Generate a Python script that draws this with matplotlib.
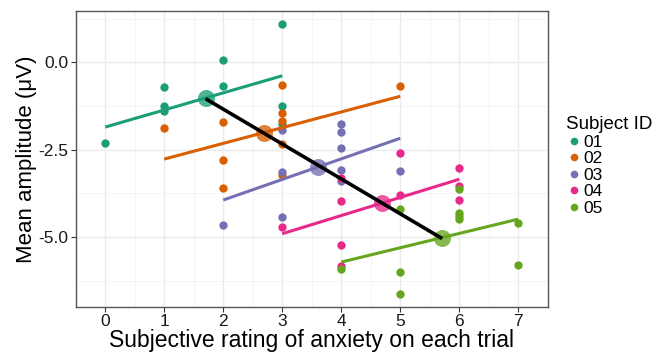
import matplotlib
matplotlib.use("Agg")
import matplotlib.pyplot as plt
import numpy as np
from matplotlib.lines import Line2D

plt.rcParams['font.family'] = ['Liberation Sans', 'DejaVu Sans']

subjects = ["01", "02", "03", "04", "05"]
colors = ["#1B9E77", "#D95F02", "#7570B3", "#E7298A", "#66A61E"]

x_01 = [0, 1, 1, 1, 2, 2, 3, 3, 3]
y_01 = [-2.30, -0.70, -1.25, -1.38, 0.07, -0.69, 1.09, -1.24, -1.76]
x_02 = [1, 2, 2, 2, 3, 3, 3, 3, 3, 5]
y_02 = [-1.89, -1.71, -2.80, -3.60, -0.66, -1.46, -1.67, -2.35, -3.22, -0.67]
x_03 = [2, 3, 3, 3, 4, 4, 4, 4, 4, 5]
y_03 = [-4.66, -1.95, -3.15, -4.44, -1.77, -2.00, -2.45, -3.08, -3.41, -3.11]
x_04 = [3, 4, 4, 4, 4, 5, 5, 6, 6, 6]
y_04 = [-4.73, -3.31, -3.97, -5.23, -5.83, -2.61, -3.81, -3.03, -3.53, -3.94]
x_05 = [4, 5, 5, 5, 6, 6, 6, 6, 7, 7]
y_05 = [-5.93, -4.19, -6.01, -6.65, -3.63, -4.32, -4.40, -4.49, -4.59, -5.80]

xs = [x_01, x_02, x_03, x_04, x_05]
ys = [y_01, y_02, y_03, y_04, y_05]

mean_x = [1.70, 2.69, 3.60, 4.69, 5.71]
mean_y = [-1.02, -2.01, -3.00, -4.03, -5.02]
slopes = [0.49, 0.45, 0.59, 0.52, 0.41]

x_ticks = [0, 1, 2, 3, 4, 5, 6, 7]
y_ticks = [0.0, -2.5, -5.0]
y_tick_labels = ["0.0", "-2.5", "-5.0"]

fig = plt.figure(figsize=(6.56, 3.58), dpi=100)
ax = fig.add_axes([0.1154, 0.1433, 0.835 - 0.1154, 0.969 - 0.1433])

ax.set_xlim(-0.35, 7.35)
ax.set_ylim(-7.0, 1.47)

ax.set_xticks(x_ticks)
ax.set_xticks(np.arange(-0.5, 7.6, 1.0), minor=True)
ax.set_yticks(y_ticks)
ax.set_yticklabels(y_tick_labels)
ax.set_yticks([1.25, -1.25, -3.75, -6.25], minor=True)
ax.grid(which='major', color='#EBEBEB', linewidth=1.0)
ax.grid(which='minor', color='#F2F2F2', linewidth=0.6)
ax.set_axisbelow(True)
ax.tick_params(which='minor', length=0)
ax.tick_params(which='major', length=3.5, width=0.8, color='#333333',
               labelsize=12.5, labelcolor='#1a1a1a', pad=2)
for s in ax.spines.values():
    s.set_color('#555555')
    s.set_linewidth(1.0)

for i in range(5):
    ax.scatter(xs[i], ys[i], s=36, color=colors[i], zorder=3, linewidths=0)

for i in range(5):
    x0, x1 = min(xs[i]), max(xs[i])
    lx = np.array([x0, x1])
    ly = mean_y[i] + slopes[i] * (lx - mean_x[i])
    ax.plot(lx, ly, color=colors[i], linewidth=2.2, zorder=4, solid_capstyle='butt')

for i in range(5):
    ax.scatter([mean_x[i]], [mean_y[i]], s=150, color=colors[i], alpha=0.78,
               zorder=5, linewidths=0)

coef = np.polyfit(mean_x, mean_y, 1)
bx = np.array([min(mean_x), max(mean_x)])
ax.plot(bx, np.polyval(coef, bx), color='black', linewidth=2.6, zorder=6,
        solid_capstyle='butt')

ax.set_xlabel("Subjective rating of anxiety on each trial", fontsize=16.5, labelpad=0)
ax.set_ylabel("Mean amplitude (\u03bcV)", fontsize=16, labelpad=0.5)

handles = [Line2D([], [], marker='o', linestyle='none', markersize=5.5,
                  markerfacecolor=c, markeredgewidth=0) for c in colors]
leg = fig.legend(handles, subjects, title="Subject ID", loc='upper left',
                 bbox_to_anchor=(0.850, 0.700), frameon=False, fontsize=12.5,
                 title_fontsize=13.5, labelspacing=0.08, handletextpad=0.1,
                 handlelength=0.9, borderpad=0.0, alignment='left')

fig.savefig("out.png", dpi=100)
